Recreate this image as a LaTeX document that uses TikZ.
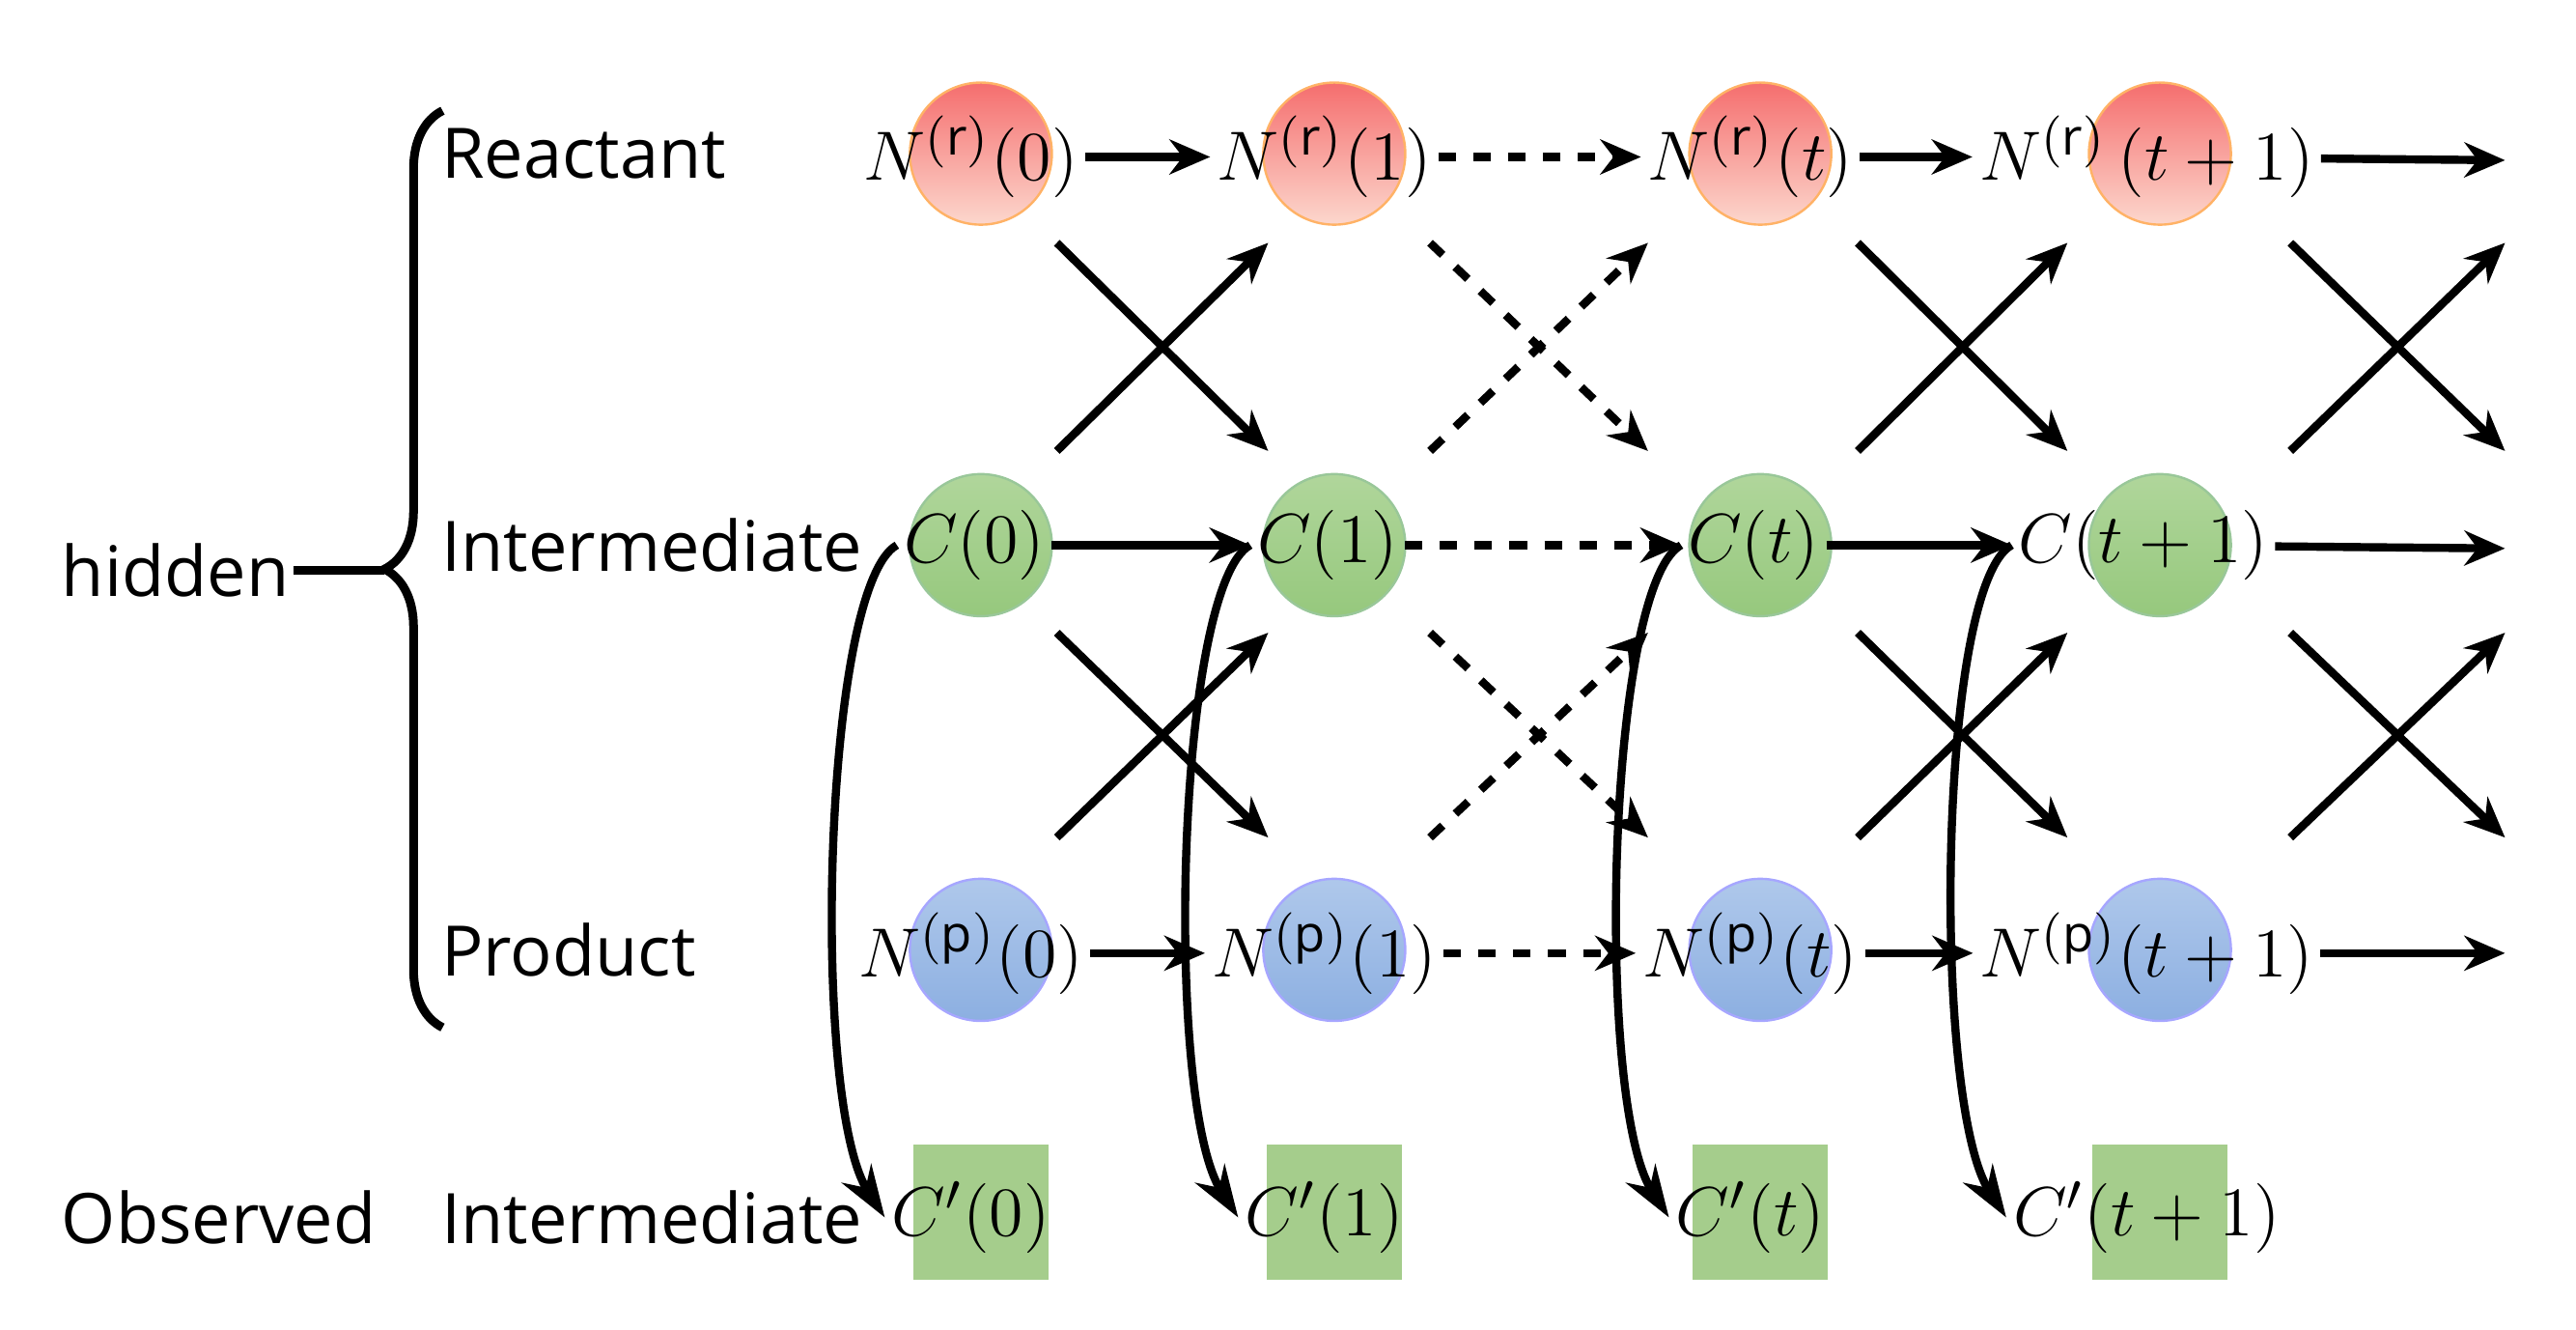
\documentclass[tikz,border=0pt]{standalone}
\usepackage{fontspec}
\setmainfont{Open Sans}
\usetikzlibrary{arrows.meta, positioning, calc, decorations.pathreplacing}
\definecolor{rtop}{RGB}{245,110,110}
\definecolor{rbot}{RGB}{252,215,205}
\definecolor{gtop}{RGB}{176,214,155}
\definecolor{gbot}{RGB}{150,200,125}
\definecolor{btop}{RGB}{175,200,235}
\definecolor{bbot}{RGB}{140,175,225}
\definecolor{obsgreen}{RGB}{165,205,140}

\begin{document}
\begin{tikzpicture}[
    font=\fontsize{12pt}{14pt}\selectfont,
    state/.style={circle, minimum size=0.86cm, inner sep=0pt},
    react/.style={state, draw=orange!60, top color=rtop, bottom color=rbot},
    inter/.style={state, draw=green!45!black!40, top color=gtop, bottom color=gbot},
    prod/.style={state, draw=blue!35, top color=btop, bottom color=bbot},
    obs/.style={rectangle, minimum size=0.82cm, inner sep=0pt, fill=obsgreen},
    lbl/.style={inner sep=1pt, font=\fontsize{12.5pt}{14pt}\selectfont},
    arr/.style={-{Stealth[length=7pt,width=6pt]}, line width=1.4pt},
    emit/.style={-{Stealth[length=9pt,width=6pt]}, line width=1.4pt}
]
\useasboundingbox (0,0) rectangle (15.6,-8.05);

% states
\foreach \i/\x in {0/5.94, 1/8.08, 2/10.66, 3/13.08} {
    \node[react] (r\i) at (\x,-0.93) {};
    \node[inter] (c\i) at (\x,-3.30) {};
    \node[prod]  (p\i) at (\x,-5.75) {};
    \node[obs]   (o\i) at (\x,-7.34) {};
}

% labels on states
\node[lbl] (rt0) at (5.88,-0.95) {$N^{(\mathrm{r})}(0)$};
\node[lbl] (rt1) at (8.02,-0.95) {$N^{(\mathrm{r})}(1)$};
\node[lbl] (rt2) at (10.60,-0.95) {$N^{(\mathrm{r})}(t)$};
\node[lbl] (rt3) at (13.00,-0.95) {$N^{(\mathrm{r})}\,(t+1)$};
\node[lbl] (ct0) at (5.90,-3.30) {$C(0)$};
\node[lbl] (ct1) at (8.04,-3.30) {$C(1)$};
\node[lbl] (ct2) at (10.62,-3.30) {$C(t)$};
\node[lbl] (ct3) at (12.98,-3.30) {$C(t+1)$};
\node[lbl] (pt0) at (5.88,-5.77) {$N^{(\mathrm{p})}(0)$};
\node[lbl] (pt1) at (8.02,-5.77) {$N^{(\mathrm{p})}(1)$};
\node[lbl] (pt2) at (10.60,-5.77) {$N^{(\mathrm{p})}(t)$};
\node[lbl] (pt3) at (13.00,-5.77) {$N^{(\mathrm{p})}(t+1)$};
\node[lbl] (ot0) at (5.88,-7.37) {$C'(0)$};
\node[lbl] (ot1) at (8.02,-7.37) {$C'(1)$};
\node[lbl] (ot2) at (10.60,-7.37) {$C'(t)$};
\node[lbl] (ot3) at (13.00,-7.37) {$C'(t+1)$};

% row titles
\node[anchor=west] (treact) at (2.55,-0.93) {Reactant};
\node[anchor=west] (tinter) at (2.55,-3.30) {Intermediate};
\node[anchor=west] (tprod) at (2.55,-5.75) {Product};
\node[anchor=west] (tobsi) at (2.55,-7.37) {Intermediate};
\node[anchor=west] (tobs) at (0.25,-7.37) {Observed};
\node[anchor=west] (thid) at (0.25,-3.45) {hidden};

% brace
\draw[decorate, decoration={brace, amplitude=10pt}, line width=1.5pt]
    (2.68,-6.22) -- (2.68,-0.67);
\coordinate (tip) at (2.33,-3.45);
\draw[line width=1.5pt] (1.78,-3.45) -- (tip);

% horizontal arrows
\coordinate (rend) at (15.17,-0.97);
\coordinate (cend) at (15.17,-3.32);
\coordinate (pend) at (15.17,-5.77);
\foreach \row in {r,c,p} {
    \draw[arr] (\row t0) -- (\row t1);
    \draw[arr, dashed] (\row t1) -- (\row t2);
    \draw[arr] (\row t2) -- (\row t3);
    \draw[arr] (\row t3) -- (\row end);
}

% crossing transitions
\foreach \a/\b/\s in {6.40/7.68/solid, 8.66/9.98/dashed, 11.25/12.52/solid, 13.87/15.17/solid} {
    \draw[arr, \s] (\a,-1.47) -- (\b,-2.73);
    \draw[arr, \s] (\a,-2.73) -- (\b,-1.47);
    \draw[arr, \s] (\a,-3.83) -- (\b,-5.07);
    \draw[arr, \s] (\a,-5.07) -- (\b,-3.83);
}

% emissions
\foreach \i in {0,1,2,3} {
    \draw[emit] (ct\i.west) .. controls +(-0.45,-0.25) and +(-0.45,0.7) .. (ot\i.west);
}
\end{tikzpicture}
\end{document}
